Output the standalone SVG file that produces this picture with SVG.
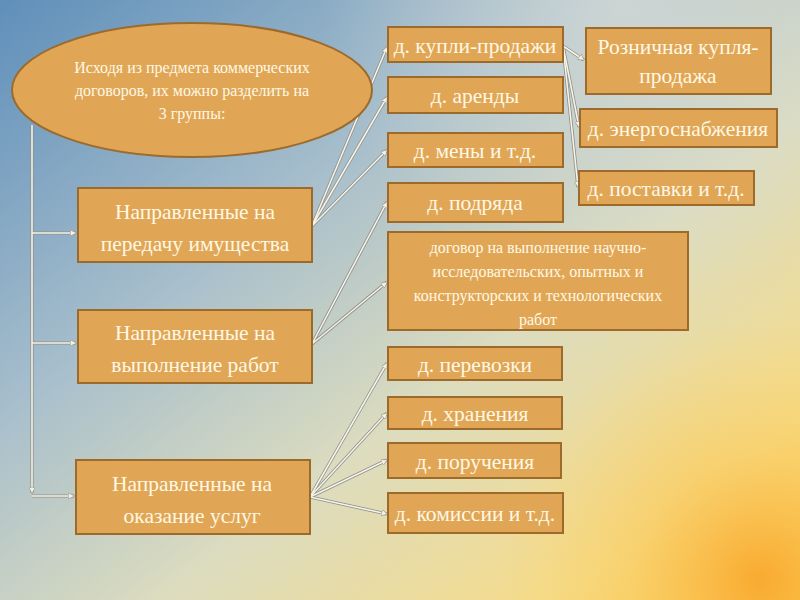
<svg xmlns="http://www.w3.org/2000/svg" width="800" height="600" viewBox="0 0 800 600">
<defs>
<linearGradient id="bg" x1="0" y1="0" x2="1" y2="1">
<stop offset="0" stop-color="#5f8fba"/>
<stop offset="0.35" stop-color="#a8bfcc"/>
<stop offset="0.6" stop-color="#dcdcbf"/>
<stop offset="0.85" stop-color="#f6dc8a"/>
<stop offset="1" stop-color="#fbcf5a"/>
</linearGradient>
<radialGradient id="glow" cx="760" cy="580" r="260" gradientUnits="userSpaceOnUse">
<stop offset="0" stop-color="#f9a52a" stop-opacity="0.9"/>
<stop offset="0.5" stop-color="#fbc24a" stop-opacity="0.4"/>
<stop offset="1" stop-color="#fbd060" stop-opacity="0"/>
</radialGradient>
<radialGradient id="topglow" cx="620" cy="0" r="300" gradientUnits="userSpaceOnUse">
<stop offset="0" stop-color="#d8dcd8" stop-opacity="0.7"/>
<stop offset="1" stop-color="#d8dcd8" stop-opacity="0"/>
</radialGradient>
<marker id="arr" viewBox="0 0 10 10" refX="9" refY="5" markerWidth="4" markerHeight="4" orient="auto" markerUnits="strokeWidth">
<path d="M0,0 L10,5 L0,10 z" fill="#f4f1e6" stroke="#8f8f86" stroke-width="1"/>
</marker>
<style>
.box{fill:#e0a656;stroke:#9c6b2c;stroke-width:2}
.t{font-family:"Liberation Serif","Times New Roman",serif;fill:#fff8e4;text-anchor:middle}
.big{font-size:21.5px}
.sm{font-size:16px}
.c{fill:none;stroke:#8e8f88;stroke-width:3.2}
.ci{fill:none;stroke:#f6f3ea;stroke-width:1.6}
</style>
</defs>
<rect width="800" height="600" fill="url(#bg)"/>
<rect width="800" height="600" fill="url(#topglow)"/>
<rect width="800" height="600" fill="url(#glow)"/>

<g id="connectors">
<g class="c">
<path d="M32,125 V493"/>
<path d="M32,233 H76"/>
<path d="M32,343 H76"/>
<path d="M32,496 H74"/>
<path d="M312,226 L387,47"/>
<path d="M312,226 L387,97"/>
<path d="M312,226 L387,150"/>
<path d="M312,344 L387,202"/>
<path d="M312,344 L387,282"/>
<path d="M310,497 L387,363"/>
<path d="M310,497 L387,413"/>
<path d="M310,497 L387,460"/>
<path d="M310,497 L387,514"/>
<path d="M563,46 L584,60"/>
<path d="M563,46 L579,127"/>
<path d="M563,46 L578,187"/>
</g>
<g class="ci">
<path d="M32,125 V493" marker-end="url(#arr)"/>
<path d="M32,233 H76" marker-end="url(#arr)"/>
<path d="M32,343 H76" marker-end="url(#arr)"/>
<path d="M32,496 H74" marker-end="url(#arr)"/>
<path d="M312,226 L387,47" marker-end="url(#arr)"/>
<path d="M312,226 L387,97" marker-end="url(#arr)"/>
<path d="M312,226 L387,150" marker-end="url(#arr)"/>
<path d="M312,344 L387,202" marker-end="url(#arr)"/>
<path d="M312,344 L387,282" marker-end="url(#arr)"/>
<path d="M310,497 L387,363" marker-end="url(#arr)"/>
<path d="M310,497 L387,413" marker-end="url(#arr)"/>
<path d="M310,497 L387,460" marker-end="url(#arr)"/>
<path d="M310,497 L387,514" marker-end="url(#arr)"/>
<path d="M563,46 L584,60" marker-end="url(#arr)"/>
<path d="M563,46 L579,127" marker-end="url(#arr)"/>
<path d="M563,46 L578,187" marker-end="url(#arr)"/>
</g>
</g>

<g id="root">
<ellipse cx="192" cy="90" rx="180" ry="67" class="box"/>
<text class="t sm" x="192" y="73">Исходя из предмета коммерческих</text>
<text class="t sm" x="192" y="96">договоров, их можно разделить на</text>
<text class="t sm" x="192" y="119">3 группы:</text>
</g>

<g id="g1">
<rect x="78" y="188" width="234" height="74" class="box"/>
<text class="t big" x="195" y="219">Направленные на</text>
<text class="t big" x="195" y="251">передачу имущества</text>
</g>
<g id="g2">
<rect x="78" y="310" width="234" height="73" class="box"/>
<text class="t big" x="195" y="340">Направленные на</text>
<text class="t big" x="195" y="372">выполнение работ</text>
</g>
<g id="g3">
<rect x="76" y="460" width="234" height="74" class="box"/>
<text class="t big" x="192" y="491">Направленные на</text>
<text class="t big" x="192" y="523">оказание услуг</text>
</g>

<g id="n1"><rect x="388" y="27" width="175" height="35" class="box"/><text class="t big" x="475" y="53">д. купли-продажи</text></g>
<g id="n2"><rect x="388" y="77" width="175" height="36" class="box"/><text class="t big" x="475" y="103">д. аренды</text></g>
<g id="n3"><rect x="388" y="133" width="175" height="34" class="box"/><text class="t big" x="475" y="158">д. мены и т.д.</text></g>
<g id="n4"><rect x="388" y="183" width="175" height="39" class="box"/><text class="t big" x="475" y="210">д. подряда</text></g>
<g id="n5"><rect x="388" y="232" width="300" height="98" class="box"/>
<text class="t sm" x="538" y="253">договор на выполнение научно-</text>
<text class="t sm" x="538" y="277">исследовательских, опытных и</text>
<text class="t sm" x="538" y="301">конструкторских и технологических</text>
<text class="t sm" x="538" y="325">работ</text></g>
<g id="n6"><rect x="388" y="347" width="174" height="33" class="box"/><text class="t big" x="475" y="372">д. перевозки</text></g>
<g id="n7"><rect x="388" y="397" width="174" height="32" class="box"/><text class="t big" x="475" y="421">д. хранения</text></g>
<g id="n8"><rect x="388" y="443" width="173" height="35" class="box"/><text class="t big" x="475" y="469">д. поручения</text></g>
<g id="n9"><rect x="388" y="493" width="175" height="40" class="box"/><text class="t big" x="475" y="521">д. комиссии и т.д.</text></g>
<g id="n10"><rect x="586" y="28" width="185" height="66" class="box"/>
<text class="t big" x="678" y="54">Розничная купля-</text>
<text class="t big" x="678" y="83">продажа</text></g>
<g id="n11"><rect x="580" y="109" width="197" height="38" class="box"/><text class="t big" x="678" y="136">д. энергоснабжения</text></g>
<g id="n12"><rect x="579" y="171" width="175" height="34" class="box"/><text class="t big" x="666" y="196">д. поставки и т.д.</text></g>
</svg>
